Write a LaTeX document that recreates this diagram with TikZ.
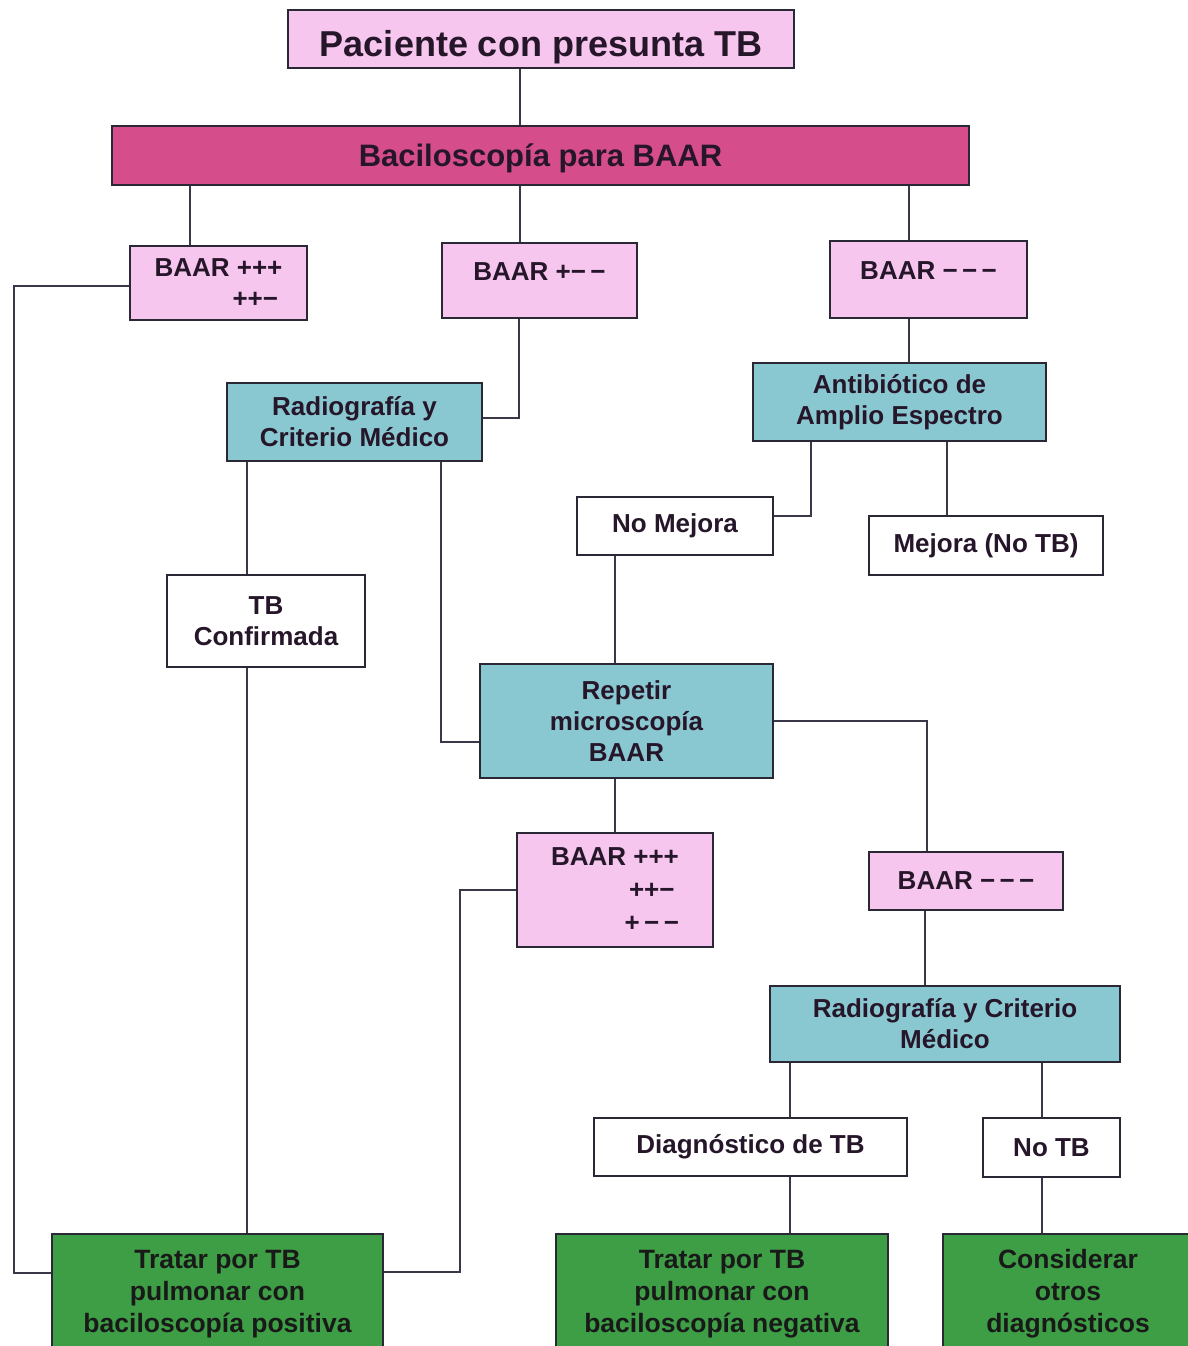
\documentclass[tikz,border=0pt]{standalone}
\usepackage{fontspec}
\setmainfont{Liberation Sans}
\definecolor{pinkbox}{HTML}{F6C6EE}
\definecolor{magbox}{HTML}{D64D8B}
\definecolor{bluebox}{HTML}{8AC8D1}
\definecolor{greenbox}{HTML}{3E9E45}
\definecolor{bordercol}{HTML}{2A2834}
\definecolor{txtcol}{HTML}{26162A}
\definecolor{linecol}{HTML}{3A3848}
\begin{document}
\begin{tikzpicture}[x=1pt,y=-1pt,
  box/.style={draw=bordercol, line width=2.8pt, inner sep=0pt, align=center,
    text=txtcol, font=\fontsize{26}{31}\selectfont\bfseries},
  pinkb/.style={box, fill=pinkbox},
  blueb/.style={box, fill=bluebox},
  whiteb/.style={box, fill=white},
  greenb/.style={box, fill=greenbox, text=black!90},
  sz/.style 2 args={minimum width=#1, minimum height=#2},
  conn/.style={draw=linecol, line width=2pt},
  toptxt/.style={text height=20pt, text depth=20pt}
]
\useasboundingbox (0,0) rectangle (1188,1346);
\fill[white] (0,0) rectangle (1188,1346);

% nodes
\node[pinkb, sz={506pt}{58pt}, text height=35pt, text depth=0pt, font=\fontsize{36}{40}\selectfont\bfseries] (top) at (541,39) {Paciente con presunta TB};
\node[box, fill=magbox, sz={857pt}{59pt}, text height=23pt, text depth=2pt, font=\fontsize{31}{36}\selectfont\bfseries] (bac) at (540.5,155.5) {Baciloscopía para BAAR};

\node[pinkb, sz={177pt}{74pt}, align=right] (b1) at (218.5,283) {BAAR +++\\++−\,};
\node[pinkb, sz={195pt}{75pt}, toptxt] (b2) at (539.5,280.5) {BAAR +−\,−};
\node[pinkb, sz={197pt}{77pt}, toptxt] (b3) at (928.5,279.5) {BAAR −\,−\,−};

\node[blueb, sz={255pt}{78pt}] (rad1) at (354.5,422) {Radiografía y\\Criterio Médico};
\node[blueb, sz={293pt}{78pt}] (ant) at (899.5,402) {Antibiótico de\\Amplio Espectro};

\node[whiteb, sz={196pt}{58pt}] (nomej) at (675,526) {No Mejora};
\node[whiteb, sz={234pt}{59pt}] (mej) at (986,545.5) {Mejora (No TB)};
\node[whiteb, sz={198pt}{92pt}] (tbc) at (266,621) {TB\\Confirmada};

\node[blueb, sz={293pt}{114pt}] (rep) at (626.5,721) {Repetir\\microscopía\\BAAR};
\node[pinkb, sz={196pt}{114pt}, align=right, font=\fontsize{26}{33}\selectfont\bfseries] (b4) at (615,890) {BAAR +++\\++−\,\\+\,−\,−};
\node[pinkb, sz={194pt}{58pt}] (b5) at (966,881) {BAAR −\,−\,−};

\node[blueb, sz={350pt}{76pt}] (rad2) at (945,1024) {Radiografía y Criterio\\Médico};
\node[whiteb, sz={313pt}{58pt}] (diag) at (750.5,1147) {Diagnóstico de TB};
\node[whiteb, sz={137pt}{59pt}] (notb) at (1051.5,1147.5) {No TB};

\node[greenb, sz={331pt}{120pt}, font=\fontsize{26.5}{32}\selectfont\bfseries] (g1) at (217.5,1294) {Tratar por TB\\pulmonar con\\baciloscopía positiva};
\node[greenb, sz={332pt}{120pt}, font=\fontsize{26.5}{32}\selectfont\bfseries] (g2) at (722,1294) {Tratar por TB\\pulmonar con\\baciloscopía negativa};
\node[greenb, sz={250pt}{120pt}, font=\fontsize{26.5}{32}\selectfont\bfseries] (g3) at (1068,1294) {Considerar\\otros\\diagnósticos};

\coordinate (lc) at (14,0);
\coordinate (mc) at (460,0);

% connectors
\draw[conn] ([xshift=-21pt]top.south) -- ([xshift=-21pt]top.south |- bac.north);
\draw[conn] ([xshift=-28.5pt]b1.north) -- ([xshift=-28.5pt]b1.north |- bac.south);
\draw[conn] ([xshift=-19.5pt]b2.north) -- ([xshift=-19.5pt]b2.north |- bac.south);
\draw[conn] ([xshift=-19.5pt]b3.north) -- ([xshift=-19.5pt]b3.north |- bac.south);

\draw[conn] ([yshift=-3pt]b1.west) -- ([yshift=-3pt]b1.west -| lc) -- ([yshift=21pt]g1.west -| lc) -- ([yshift=21pt]g1.west);
\draw[conn] ([xshift=-20.5pt]b2.south) |- ([yshift=4pt]rad1.east);
\draw[conn] ([xshift=-19.5pt]b3.south) -- ([xshift=-19.5pt]b3.south |- ant.north);

\draw[conn] ([xshift=-88.5pt]ant.south) |- ([yshift=10pt]nomej.east);
\draw[conn] ([xshift=47.5pt]ant.south) -- ([xshift=47.5pt]ant.south |- mej.north);

\draw[conn] ([xshift=-19pt]tbc.north) -- ([xshift=-19pt]tbc.north |- rad1.south);
\draw[conn] ([xshift=-19pt]tbc.south) -- ([xshift=-19pt]tbc.south |- g1.north);
\draw[conn] ([xshift=86.5pt]rad1.south) |- ([yshift=-21pt]rep.west);
\draw[conn] ([xshift=-60pt]nomej.south) -- ([xshift=-60pt]nomej.south |- rep.north);

\draw[conn] (rep.east) -| ([xshift=-39pt]b5.north);
\draw[conn] (b4.north) -- (b4.north |- rep.south);
\draw[conn] (b4.west) -- (b4.west -| mc) -- ([yshift=22pt]g1.east -| mc) -- ([yshift=22pt]g1.east);

\draw[conn] ([xshift=-41pt]b5.south) -- ([xshift=-41pt]b5.south |- rad2.north);
\draw[conn] ([xshift=39.5pt]diag.north) -- ([xshift=39.5pt]diag.north |- rad2.south);
\draw[conn] ([xshift=-9.5pt]notb.north) -- ([xshift=-9.5pt]notb.north |- rad2.south);
\draw[conn] ([xshift=39.5pt]diag.south) -- ([xshift=39.5pt]diag.south |- g2.north);
\draw[conn] ([xshift=-9.5pt]notb.south) -- ([xshift=-9.5pt]notb.south |- g3.north);
\end{tikzpicture}
\end{document}
